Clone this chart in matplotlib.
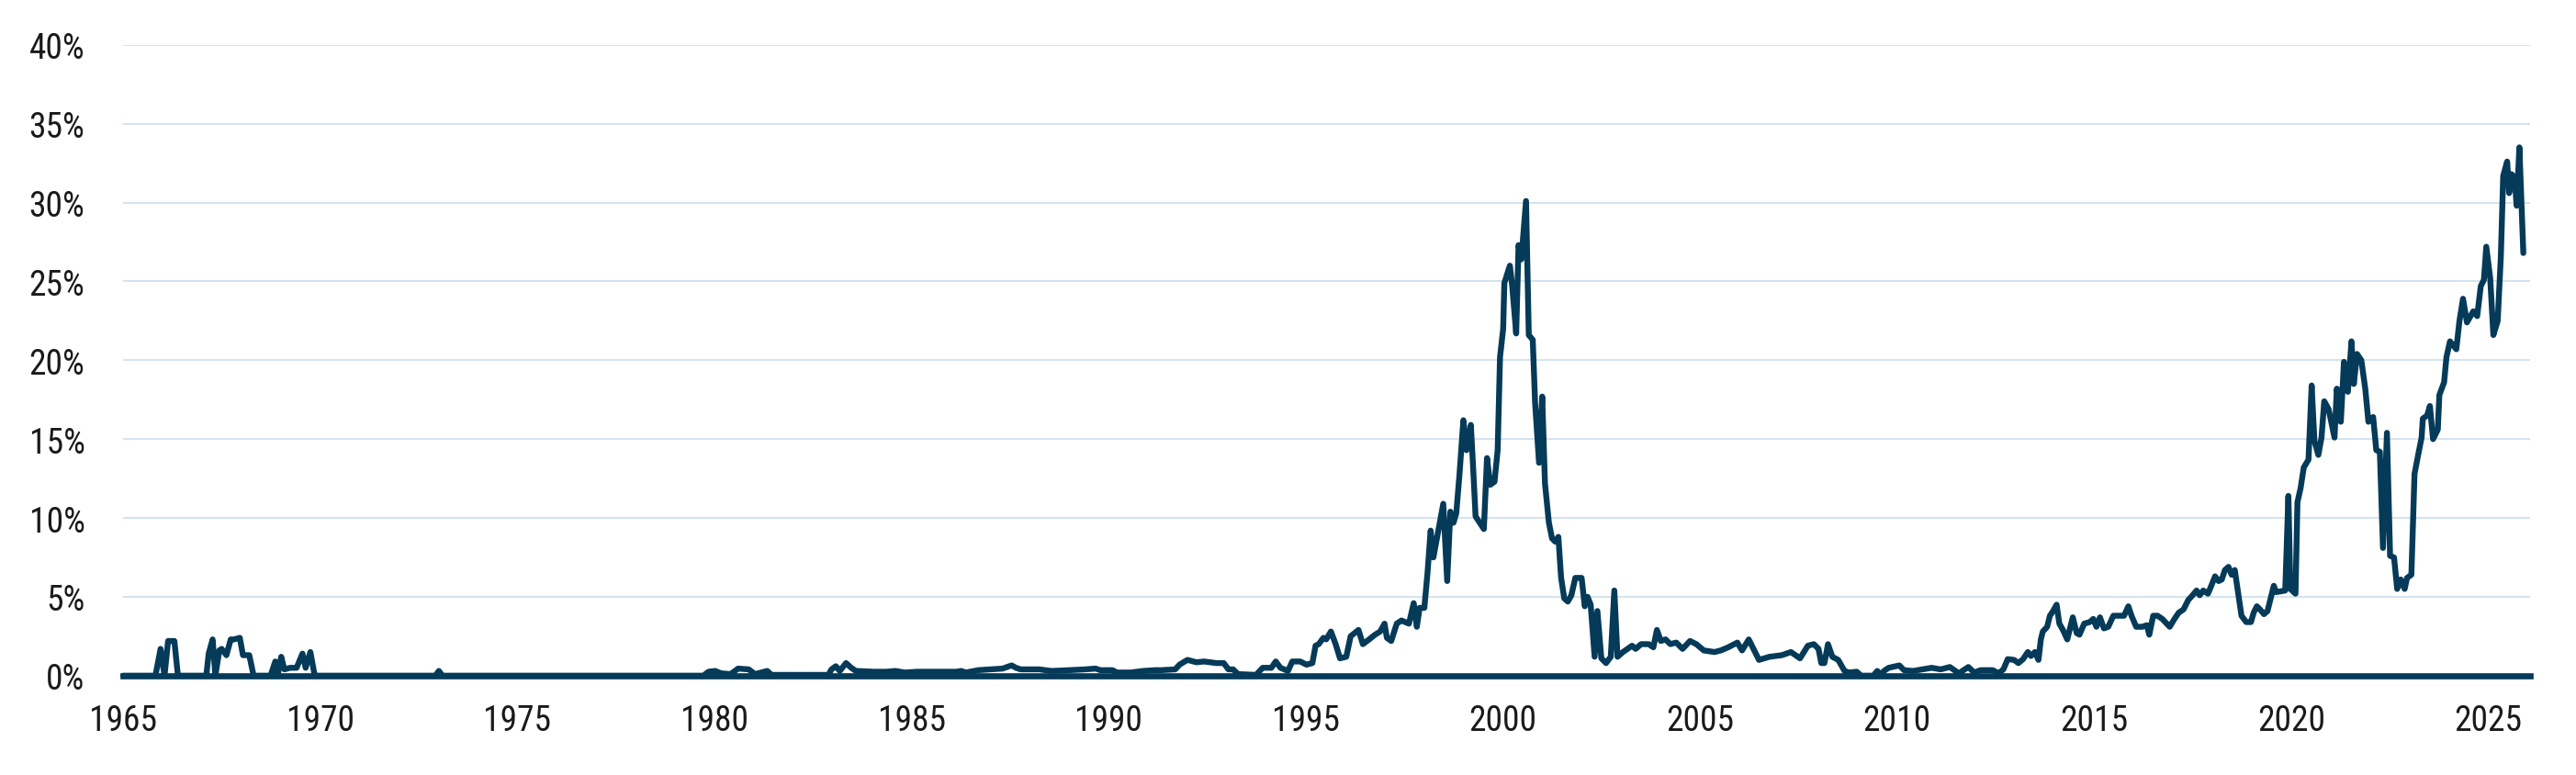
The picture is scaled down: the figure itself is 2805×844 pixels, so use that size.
import matplotlib
matplotlib.use("Agg")
import matplotlib.pyplot as plt
from matplotlib import font_manager
from matplotlib.ticker import FuncFormatter
import numpy as np

# --- data: share of the series (%), by era ---
yr_60s = [1965.0, 1965.82, 1965.95, 1966.05, 1966.14, 1966.3, 1966.39, 1967.11, 1967.17, 1967.27,
          1967.34, 1967.44, 1967.5, 1967.62, 1967.73, 1967.81, 1967.96, 1968.04, 1968.2, 1968.31,
          1968.74, 1968.86, 1968.92, 1969.01, 1969.09, 1969.24, 1969.4, 1969.55, 1969.63, 1969.75,
          1969.86, 1972.92, 1973.01, 1973.1, 1979.72, 1979.85]
val_60s = [0, 0, 1.7, 0, 2.2, 2.2, 0, 0, 1.4, 2.3,
           0, 1.6, 1.7, 1.3, 2.3, 2.3, 2.4, 1.3, 1.3, 0,
           0, 0.9, 0, 1.2, 0.4, 0.5, 0.5, 1.4, 0.5, 1.5,
           0, 0, 0.3, 0, 0, 0.25]

yr_80s = [1980.02, 1980.17, 1980.41, 1980.6, 1980.87, 1981.03, 1981.34, 1981.45, 1982.89, 1982.97,
          1983.08, 1983.18, 1983.34, 1983.47, 1983.59, 1984.05, 1984.36, 1984.59, 1984.83, 1985.14,
          1986.14, 1986.26, 1986.38, 1986.69, 1987.0, 1987.31, 1987.54, 1987.65, 1987.77, 1988.24,
          1988.55, 1989.01, 1989.4, 1989.67, 1989.79, 1990.1, 1990.21, 1990.56, 1990.87, 1991.18,
          1991.34, 1991.69, 1991.8, 1992.0, 1992.23, 1992.42, 1992.73, 1992.92, 1993.04, 1993.16,
          1993.28, 1993.74, 1993.91, 1994.13, 1994.24, 1994.36, 1994.55, 1994.66, 1994.86]
val_80s = [0.3, 0.15, 0.1, 0.45, 0.4, 0.1, 0.3, 0.05, 0.05, 0.4,
           0.6, 0.3, 0.8, 0.5, 0.3, 0.25, 0.25, 0.3, 0.2, 0.25,
           0.25, 0.3, 0.2, 0.35, 0.4, 0.45, 0.65, 0.5, 0.4, 0.4,
           0.3, 0.35, 0.4, 0.45, 0.35, 0.35, 0.2, 0.2, 0.3, 0.35,
           0.35, 0.4, 0.7, 1.0, 0.85, 0.9, 0.8, 0.8, 0.4, 0.4,
           0.1, 0.05, 0.5, 0.5, 0.9, 0.5, 0.3, 0.9, 0.9]

yr_bubble = [1995.02, 1995.17, 1995.25, 1995.33, 1995.45, 1995.52, 1995.64, 1995.76, 1995.87, 1996.03,
             1996.14, 1996.34, 1996.45, 1996.61, 1996.76, 1996.89, 1997.0, 1997.06, 1997.17, 1997.31,
             1997.43, 1997.62, 1997.74, 1997.82, 1997.89, 1998.01, 1998.09, 1998.17, 1998.24, 1998.38,
             1998.49, 1998.59, 1998.67, 1998.75, 1998.82, 1998.9, 1999.0, 1999.08, 1999.19, 1999.25,
             1999.31, 1999.52, 1999.6, 1999.68, 1999.79, 1999.87, 1999.93, 2000.01, 2000.04, 2000.18,
             2000.24, 2000.34, 2000.4, 2000.47, 2000.59, 2000.66, 2000.76, 2000.82, 2000.92, 2001.0,
             2001.07, 2001.17, 2001.25, 2001.33, 2001.41, 2001.48, 2001.56, 2001.65]
val_bubble = [0.7, 0.8, 1.9, 2.0, 2.4, 2.3, 2.8, 2.0, 1.1, 1.2,
              2.5, 2.9, 2.0, 2.3, 2.6, 2.8, 3.3, 2.4, 2.2, 3.3,
              3.5, 3.3, 4.6, 3.1, 4.3, 4.3, 6.5, 9.2, 7.5, 9.4,
              10.9, 6.0, 10.4, 9.7, 10.3, 12.7, 16.2, 14.3, 15.9, 13.1,
              10.1, 9.3, 13.8, 12.1, 12.3, 14.3, 20.2, 22.0, 24.9, 26.0,
              24.7, 21.7, 27.3, 26.4, 30.1, 21.6, 21.3, 17.3, 13.5, 17.7,
              12.2, 9.7, 8.7, 8.5, 8.8, 6.2, 4.9, 4.7]

yr_00s = [2001.74, 2001.84, 2002.0, 2002.08, 2002.15, 2002.23, 2002.33, 2002.4, 2002.5, 2002.62,
          2002.74, 2002.83, 2002.91, 2003.05, 2003.28, 2003.37, 2003.51, 2003.7, 2003.82, 2003.91,
          2004.01, 2004.13, 2004.25, 2004.4, 2004.56, 2004.75, 2004.91, 2005.1, 2005.37, 2005.53,
          2005.72, 2005.95, 2006.07, 2006.24, 2006.38, 2006.5, 2006.77, 2007.08, 2007.31, 2007.54,
          2007.74, 2007.89, 2008.01, 2008.08, 2008.16, 2008.25, 2008.36, 2008.51, 2008.67, 2008.78,
          2008.98, 2009.09, 2009.4, 2009.5, 2009.6, 2009.67]
val_00s = [5.1, 6.2, 6.2, 4.4, 5.0, 4.5, 1.2, 4.1, 1.1, 0.8,
           1.2, 5.4, 1.2, 1.5, 1.9, 1.7, 2.0, 2.0, 1.8, 2.9,
           2.2, 2.3, 2.0, 2.1, 1.7, 2.2, 2.0, 1.6, 1.5, 1.6,
           1.8, 2.1, 1.6, 2.3, 1.6, 1.0, 1.2, 1.3, 1.5, 1.1,
           1.9, 2.0, 1.7, 0.8, 0.8, 2.0, 1.2, 1.0, 0.3, 0.2,
           0.25, 0, 0, 0.3, 0.05, 0.3]

yr_10s = [2009.79, 2010.06, 2010.18, 2010.41, 2010.64, 2010.88, 2011.11, 2011.34, 2011.57, 2011.81,
          2011.96, 2012.12, 2012.43, 2012.58, 2012.7, 2012.81, 2012.97, 2013.08, 2013.2, 2013.32,
          2013.4, 2013.5, 2013.59, 2013.65, 2013.7, 2013.81, 2013.88, 2013.96, 2014.05, 2014.12,
          2014.21, 2014.32, 2014.46, 2014.56, 2014.63, 2014.75, 2014.89, 2014.98, 2015.06, 2015.15,
          2015.25, 2015.36, 2015.49, 2015.64, 2015.76, 2015.87, 2015.95, 2016.07, 2016.22, 2016.34,
          2016.4, 2016.5, 2016.61, 2016.73, 2016.92, 2017.04, 2017.15, 2017.27, 2017.39, 2017.5,
          2017.6, 2017.68, 2017.77, 2017.89, 2017.99, 2018.07, 2018.16, 2018.24, 2018.32, 2018.41,
          2018.49, 2018.57, 2018.67, 2018.74, 2018.86, 2018.98, 2019.05, 2019.13, 2019.21, 2019.31,
          2019.4, 2019.48, 2019.56]
val_10s = [0.5, 0.65, 0.35, 0.3, 0.4, 0.5, 0.4, 0.55, 0.15, 0.55,
           0.2, 0.35, 0.35, 0.15, 0.4, 1.05, 1.0, 0.8, 1.05, 1.5,
           1.25, 1.5, 1.0, 2.3, 2.8, 3.1, 3.8, 4.1, 4.5, 3.3,
           2.9, 2.3, 3.7, 2.7, 2.6, 3.3, 3.4, 3.6, 3.1, 3.7,
           3.0, 3.1, 3.8, 3.8, 3.8, 4.4, 3.8, 3.1, 3.1, 3.2,
           2.6, 3.8, 3.8, 3.6, 3.1, 3.6, 4.0, 4.2, 4.8, 5.1,
           5.4, 5.1, 5.4, 5.2, 5.8, 6.3, 6.0, 6.1, 6.7, 6.9,
           6.4, 6.7, 5.0, 3.8, 3.4, 3.4, 4.0, 4.4, 4.2, 3.9,
           4.1, 4.9, 5.7]

yr_20s = [2019.62, 2019.85, 2019.93, 2019.98, 2020.11, 2020.16, 2020.24, 2020.32, 2020.44, 2020.52,
          2020.59, 2020.69, 2020.77, 2020.84, 2020.95, 2021.1, 2021.16, 2021.26, 2021.34, 2021.44,
          2021.53, 2021.59, 2021.67, 2021.78, 2021.88, 2021.96, 2022.08, 2022.16, 2022.25, 2022.33,
          2022.43, 2022.51, 2022.61, 2022.69, 2022.78, 2022.88, 2022.94, 2023.05, 2023.13, 2023.23,
          2023.31, 2023.34, 2023.45, 2023.52, 2023.6, 2023.72, 2023.76, 2023.88, 2023.94, 2024.03,
          2024.19, 2024.27, 2024.36, 2024.46, 2024.62, 2024.72, 2024.81, 2024.89, 2024.95, 2025.05,
          2025.13, 2025.24, 2025.32, 2025.38, 2025.48, 2025.53, 2025.59, 2025.67, 2025.72, 2025.79,
          2025.89]
val_20s = [5.3, 5.4, 11.4, 5.5, 5.2, 11.0, 11.9, 13.2, 13.7, 18.4,
           14.9, 14.0, 15.1, 17.4, 16.9, 15.1, 18.2, 16.1, 19.9, 18.0,
           21.2, 18.5, 20.4, 20.0, 18.2, 16.1, 16.4, 14.3, 14.2, 8.1,
           15.4, 7.6, 7.5, 5.5, 6.1, 5.5, 6.2, 6.4, 12.8, 14.1,
           15.1, 16.3, 16.5, 17.1, 15.0, 15.6, 17.8, 18.6, 20.2, 21.2,
           20.7, 22.5, 23.9, 22.4, 23.1, 22.8, 24.7, 25.1, 27.2, 25.2,
           21.6, 22.5, 26.6, 31.7, 32.6, 30.6, 31.8, 31.6, 29.8, 33.5,
           26.8]

years = np.concatenate([yr_60s, yr_80s, yr_bubble, yr_00s, yr_10s, yr_20s])
values = np.concatenate([val_60s, val_80s, val_bubble, val_00s, val_10s, val_20s])

year_ticks = list(range(1965, 2026, 5))
pct_ticks = list(range(0, 41, 5))

# шрифт: узкий, если он есть
family = "Roboto"
for cand in ["Roboto Condensed", "Liberation Sans Narrow", "Open Sans Condensed"]:
    try:
        font_manager.findfont(cand, fallback_to_default=False)
        family = cand
        break
    except Exception:
        pass
plt.rcParams["font.family"] = [family, "DejaVu Sans"]

navy = "#053a58"
grid_blue = "#d3e3ed"

fig = plt.figure(figsize=(28.05, 8.45), dpi=100)
ax = fig.add_axes([0.0478, 0.128, 0.9342, 0.813])

ax.plot(years, values, color=navy, lw=4.6, solid_joinstyle="round",
        solid_capstyle="round", zorder=3, clip_on=False)
ax.axhline(0, color=navy, lw=4.8, zorder=4, clip_on=False)

ax.set_xlim(1965, 2026.05)
ax.set_ylim(0, 40)
ax.set_xticks(year_ticks)
ax.set_yticks(pct_ticks)
ax.yaxis.set_major_formatter(FuncFormatter(lambda v, p: f"{int(v)}%"))
ax.grid(axis="y", color=grid_blue, lw=1.4, zorder=0)
ax.set_axisbelow(True)
for s in ax.spines.values():
    s.set_visible(False)
ax.tick_params(axis="both", length=0, labelsize=27, colors="#1a1a1a")
ax.tick_params(axis="x", pad=22)
ax.tick_params(axis="y", pad=30)

fig.savefig("out.png", dpi=100)
